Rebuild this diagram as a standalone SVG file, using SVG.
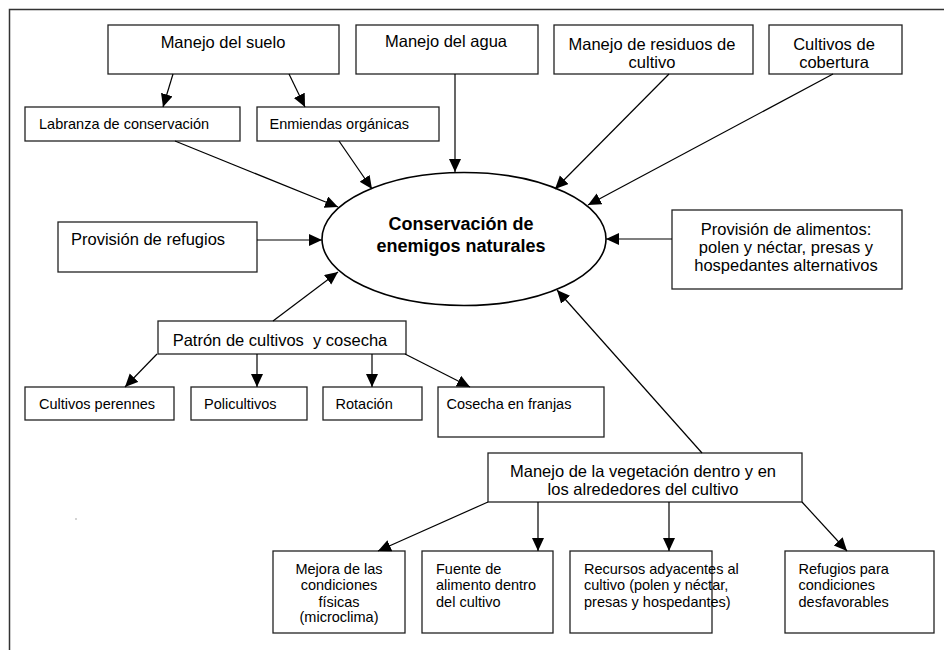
<svg xmlns="http://www.w3.org/2000/svg" width="944" height="650" viewBox="0 0 944 650">
<defs>
<style>
.box{fill:#fff;stroke:#222;stroke-width:1.3}
.t{font-family:"Liberation Sans",Arial,sans-serif;font-size:16.5px;fill:#000}
.s{font-family:"Liberation Sans",Arial,sans-serif;font-size:14.5px;fill:#000}
.c{text-anchor:middle}
.b{font-weight:bold;font-size:18px}
.conn line{stroke:#000;stroke-width:1.2;marker-end:url(#ah)}
</style>
<marker id="ah" markerUnits="userSpaceOnUse" markerWidth="14" markerHeight="13" refX="13" refY="6" orient="auto">
<path d="M0,0 L13,6 L0,12 z" fill="#000"/>
</marker>
</defs>
<rect width="944" height="650" fill="#fff"/>
<path d="M9.5,650 V9.5 H944" fill="none" stroke="#333" stroke-width="1.5"/>
<rect x="75.5" y="518.5" width="1" height="1" fill="#555"/>

<g id="center">
<ellipse cx="464" cy="239" rx="142" ry="66.5" fill="#fff" stroke="#000" stroke-width="1.6"/>
<text class="t b c" x="461" y="230">Conservación de</text>
<text class="t b c" x="461" y="252">enemigos naturales</text>
</g>

<g id="suelo">
<rect class="box" x="108" y="25" width="231" height="49"/>
<text class="t c" x="223" y="48">Manejo del suelo</text>
</g>
<g id="agua">
<rect class="box" x="356" y="25" width="182" height="49"/>
<text class="t c" x="446" y="47">Manejo del agua</text>
</g>
<g id="residuos">
<rect class="box" x="554" y="25" width="199" height="49"/>
<text class="t c" x="652" y="50">Manejo de residuos de</text>
<text class="t c" x="652" y="68">cultivo</text>
</g>
<g id="cobertura">
<rect class="box" x="769" y="25" width="133" height="49"/>
<text class="t c" x="834" y="50">Cultivos de</text>
<text class="t c" x="834" y="68">cobertura</text>
</g>
<g id="labranza">
<rect class="box" x="25" y="107" width="215" height="34"/>
<text class="s" x="39" y="128.5">Labranza de conservación</text>
</g>
<g id="enmiendas">
<rect class="box" x="257" y="107" width="182" height="34"/>
<text class="s" x="269.5" y="128.5">Enmiendas orgánicas</text>
</g>
<g id="refugios">
<rect class="box" x="58" y="222" width="199" height="50"/>
<text class="t" x="71" y="245">Provisión de refugios</text>
</g>
<g id="alimentos">
<rect class="box" x="672" y="210" width="230" height="79"/>
<text class="t c" x="786" y="235">Provisión de alimentos:</text>
<text class="t c" x="786" y="253">polen y néctar, presas y</text>
<text class="t c" x="786" y="271">hospedantes alternativos</text>
</g>
<g id="patron">
<rect class="box" x="158" y="321" width="248" height="33"/>
<text class="t c" x="280" y="345.5" xml:space="preserve">Patrón de cultivos  y cosecha</text>
</g>
<g id="perennes">
<rect class="box" x="25" y="387" width="149" height="33"/>
<text class="s" x="39" y="409">Cultivos perennes</text>
</g>
<g id="policultivos">
<rect class="box" x="191" y="387" width="116" height="33"/>
<text class="s" x="204" y="409">Policultivos</text>
</g>
<g id="rotacion">
<rect class="box" x="323" y="387" width="99" height="33"/>
<text class="s" x="335.5" y="409">Rotación</text>
</g>
<g id="franjas">
<rect class="box" x="438" y="387" width="166" height="50"/>
<text class="s" x="446.5" y="409">Cosecha en franjas</text>
</g>
<g id="vegetacion">
<rect class="box" x="488" y="453" width="314" height="49"/>
<text class="t c" x="643" y="476.5">Manejo de la vegetación dentro y en</text>
<text class="t c" x="643" y="495">los alrededores del cultivo</text>
</g>
<g id="mejora">
<rect class="box" x="273" y="551" width="132" height="82"/>
<text class="s c" x="339" y="573.5">Mejora de las</text>
<text class="s c" x="339" y="590">condiciones</text>
<text class="s c" x="339" y="606.5">físicas</text>
<text class="s c" x="339" y="622">(microclima)</text>
</g>
<g id="fuente">
<rect class="box" x="422" y="551" width="131" height="82"/>
<text class="s" x="436" y="573.5">Fuente de</text>
<text class="s" x="436" y="590">alimento dentro</text>
<text class="s" x="436" y="606.5">del cultivo</text>
</g>
<g id="recursos">
<rect class="box" x="570" y="551" width="142" height="82"/>
<text class="s" x="584" y="573.5">Recursos adyacentes al</text>
<text class="s" x="584" y="590">cultivo (polen y néctar,</text>
<text class="s" x="584" y="606.5">presas y hospedantes)</text>
</g>
<g id="refugios2">
<rect class="box" x="785" y="551" width="149" height="82"/>
<text class="s" x="798.5" y="573.5">Refugios para</text>
<text class="s" x="798.5" y="590">condiciones</text>
<text class="s" x="798.5" y="606.5">desfavorables</text>
</g>

<g id="connectors" class="conn">
<line x1="173" y1="74" x2="163" y2="107"/>
<line x1="289" y1="74" x2="305" y2="107"/>
<line x1="175" y1="141" x2="338" y2="207"/>
<line x1="339" y1="141" x2="372" y2="189"/>
<line x1="455" y1="74" x2="455" y2="172"/>
<line x1="669" y1="74" x2="555" y2="189"/>
<line x1="833" y1="74" x2="588" y2="205"/>
<line x1="257" y1="240" x2="322" y2="240"/>
<line x1="672" y1="239" x2="606" y2="239"/>
<line x1="273" y1="321" x2="338" y2="272"/>
<line x1="702" y1="453" x2="557" y2="290"/>
<line x1="157" y1="354" x2="125" y2="387"/>
<line x1="257" y1="354" x2="257" y2="387"/>
<line x1="372" y1="354" x2="372" y2="387"/>
<line x1="405" y1="354" x2="470" y2="387"/>
<line x1="488" y1="502" x2="378" y2="551"/>
<line x1="538" y1="502" x2="538" y2="551"/>
<line x1="669" y1="502" x2="669" y2="551"/>
<line x1="802" y1="502" x2="847" y2="551"/>
</g>
</svg>
